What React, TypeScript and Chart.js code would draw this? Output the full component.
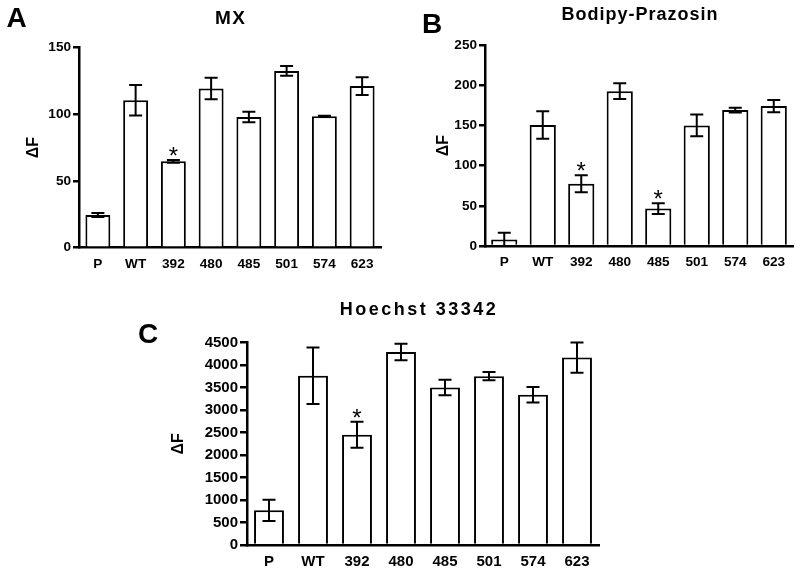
import React, { useEffect, useRef } from 'react';
import { Chart, registerables } from 'chart.js';

Chart.register(...registerables);

const categories = ['P', 'WT', '392', '480', '485', '501', '574', '623'];

const mxValues = [24.5, 110.6, 64.8, 119.4, 98, 132.6, 98.5, 121.2];
const mxErrors = [1.5, 11.4, 1, 8.1, 4, 3.7, 0.5, 6.6];
const mxStars = [false, false, true, false, false, false, false, false];
const mxTicks = [0, 50, 100, 150];

const bpValues = [8, 150.5, 77.5, 192.5, 46.5, 150, 169, 174];
const bpErrors = [8.5, 17, 10.5, 9.8, 6.6, 13.5, 3, 7.7];
const bpStars = [false, false, true, false, true, false, false, false];
const bpTicks = [0, 50, 100, 150, 200, 250];

const hoValues = [770, 3760, 2450, 4290, 3500, 3752, 3340, 4165];
const hoErrors = [235, 628, 290, 185, 172, 90, 172, 335];
const hoStars = [false, false, true, false, false, false, false, false];
const hoTicks = [0, 500, 1000, 1500, 2000, 2500, 3000, 3500, 4000, 4500];

const FONT = "'Liberation Sans', Arial, Helvetica, sans-serif";

type PanelProps = {
  left: number; top: number; width: number; height: number;
  values: number[]; errors: number[]; stars: boolean[]; ticks: number[];
  title: string; titleX: number; titleY: number; titleSize: number; titleSpacing: number;
  letter: string; letterX: number; letterY: number;
  padTop: number; padRight: number; padBottom: number;
  yWidth: number; xHeight: number; yTitlePad: number;
  barPct: number; tickSize: number; tickLen: number; xPad: number;
};

function Panel(p: PanelProps) {
  const ref = useRef<HTMLCanvasElement | null>(null);
  useEffect(() => {
    const canvas = ref.current;
    if (!canvas) return;
    const overlay = {
      id: 'overlay',
      afterDatasetsDraw(chart: any) {
        const ctx = chart.ctx;
        const xs = chart.scales.x;
        const ys = chart.scales.y;
        const area = chart.chartArea;
        ctx.save();
        ctx.strokeStyle = '#000';
        ctx.lineWidth = 2;
        ctx.lineCap = 'butt';
        p.values.forEach((v, i) => {
          const x = xs.getPixelForValue(i);
          const yHi = ys.getPixelForValue(v + p.errors[i]);
          const lowVal = v - p.errors[i];
          const yLo = Math.min(ys.getPixelForValue(Math.max(0, lowVal)), area.bottom);
          const cap = 6.5;
          ctx.beginPath();
          ctx.moveTo(x, yHi);
          ctx.lineTo(x, yLo);
          ctx.moveTo(x - cap, yHi);
          ctx.lineTo(x + cap, yHi);
          if (lowVal > 0) {
            ctx.moveTo(x - cap, yLo);
            ctx.lineTo(x + cap, yLo);
          }
          ctx.stroke();
          if (p.stars[i]) {
            ctx.fillStyle = '#000';
            ctx.font = `24px ${FONT}`;
            ctx.textAlign = 'center';
            ctx.textBaseline = 'alphabetic';
            ctx.fillText('*', x, yHi + 4);
          }
        });
        ctx.restore();
      },
      afterDraw(chart: any) {
        const ctx = chart.ctx;
        ctx.save();
        ctx.fillStyle = '#000';
        ctx.textAlign = 'center';
        ctx.textBaseline = 'middle';
        ctx.font = `bold ${p.titleSize}px ${FONT}`;
        const hasLS = 'letterSpacing' in ctx;
        if (hasLS) (ctx as any).letterSpacing = `${p.titleSpacing}px`;
        ctx.fillText(p.title, p.titleX + (hasLS ? p.titleSpacing / 2 : 0), p.titleY);
        if (hasLS) (ctx as any).letterSpacing = '0px';
        ctx.font = `bold 28px ${FONT}`;
        ctx.fillText(p.letter, p.letterX, p.letterY);
        ctx.restore();
      },
    };
    const tickFont = { family: FONT, weight: 'bold' as const, size: p.tickSize };
    const chart = new Chart(canvas, {
      type: 'bar',
      data: {
        labels: categories,
        datasets: [{
          data: p.values,
          backgroundColor: '#fff',
          borderColor: '#000',
          borderWidth: 2,
          barPercentage: p.barPct,
          categoryPercentage: 1,
        }],
      },
      options: {
        animation: false,
        responsive: false,
        maintainAspectRatio: false,
        layout: { padding: { left: 0, top: p.padTop, right: p.padRight, bottom: p.padBottom } },
        plugins: { legend: { display: false }, tooltip: { enabled: false }, title: { display: false } },
        scales: {
          x: {
            type: 'category',
            offset: true,
            grid: { display: false, drawTicks: false },
            border: { display: true, color: '#000', width: 2.5 },
            ticks: { color: '#000', font: tickFont, padding: p.xPad, maxRotation: 0, autoSkip: false },
            afterFit: (s: any) => { s.height = p.xHeight; },
          },
          y: {
            min: 0,
            max: p.ticks[p.ticks.length - 1],
            afterBuildTicks: (s: any) => { s.ticks = p.ticks.map((v) => ({ value: v })); },
            grid: { display: true, drawOnChartArea: false, drawTicks: true, tickLength: p.tickLen, color: '#000', lineWidth: 2.5 },
            border: { display: true, color: '#000', width: 2.5 },
            ticks: { color: '#000', font: tickFont, padding: 2, callback: (v: any) => String(v) },
            title: {
              display: true, text: 'ΔF', color: '#000',
              font: { family: FONT, weight: 'bold', size: 16 },
              padding: { top: p.yTitlePad, bottom: 0 },
            },
            afterFit: (s: any) => { s.width = p.yWidth; },
          },
        },
      },
      plugins: [overlay],
    });
    return () => chart.destroy();
  }, []);
  return (
    <canvas
      ref={ref}
      width={p.width}
      height={p.height}
      style={{ position: 'absolute', left: p.left, top: p.top, width: p.width, height: p.height, display: 'block' }}
    />
  );
}

export default function App() {
  return (
    <div style={{ position: 'absolute', left: 0, top: 0, width: 800, height: 572, background: '#fff', overflow: 'hidden' }}>
      <Panel left={0} top={0} width={400} height={280}
        values={mxValues} errors={mxErrors} stars={mxStars} ticks={mxTicks}
        title="MX" titleX={230} titleY={18.5} titleSize={19} titleSpacing={1.5}
        letter="A" letterX={16.5} letterY={19}
        padTop={47.7} padRight={19} padBottom={7.3} yWidth={79} xHeight={25} yTitlePad={24.4}
        barPct={0.66} tickSize={13.6} tickLen={6} xPad={8} />
      <Panel left={400} top={0} width={400} height={280}
        values={bpValues} errors={bpErrors} stars={bpStars} ticks={bpTicks}
        title="Bodipy-Prazosin" titleX={239.5} titleY={15} titleSize={18} titleSpacing={1}
        letter="B" letterX={32} letterY={25}
        padTop={45} padRight={7} padBottom={9} yWidth={85} xHeight={25} yTitlePad={34.4}
        barPct={0.68} tickSize={13.6} tickLen={6} xPad={8} />
      <Panel left={120} top={280} width={500} height={292}
        values={hoValues} errors={hoErrors} stars={hoStars} ticks={hoTicks}
        title="Hoechst 33342" titleX={297.7} titleY={30.5} titleSize={18} titleSpacing={2.5}
        letter="C" letterX={28} letterY={55}
        padTop={62.5} padRight={21} padBottom={2} yWidth={127} xHeight={25} yTitlePad={49.4}
        barPct={0.68} tickSize={15} tickLen={7} xPad={8} />
    </div>
  );
}
